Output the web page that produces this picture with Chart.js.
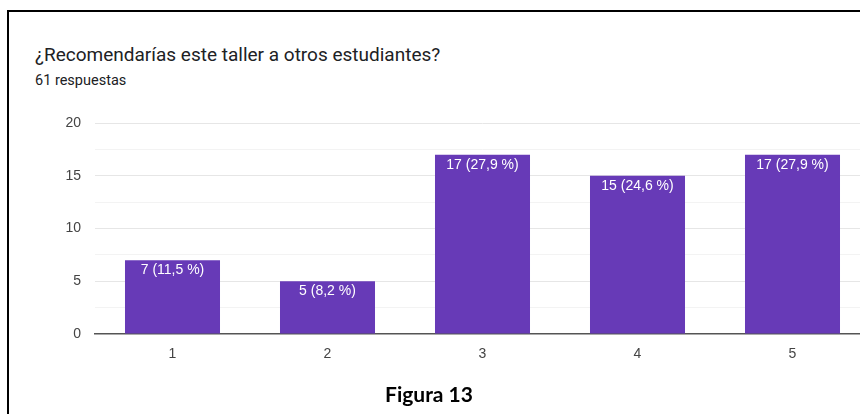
<!DOCTYPE html>
<html>
<head>
<meta charset="utf-8">
<script src="https://cdn.jsdelivr.net/npm/chart.js@4.4.0/dist/chart.umd.min.js"></script>
<style>
  html, body { margin: 0; padding: 0; background: #fff; }
  body { width: 860px; height: 414px; overflow: hidden; position: relative; font-family: Roboto, sans-serif; }
  #frame { position: absolute; left: 7px; top: 10px; width: 900px; height: 500px;
           border-top: 2px solid #000; border-left: 2px solid #000; }
  #title { position: absolute; left: 35px; top: 43px; font-size: 19px; color: #202124; white-space: nowrap; }
  #subtitle { position: absolute; left: 35px; top: 72px; font-size: 14.5px; color: #202124; }
  #figura { position: absolute; left: 0; width: 858px; top: 381px; text-align: center;
            font-family: Lato, sans-serif; font-weight: bold; font-size: 21px; color: #000; }
  #wrap { position: absolute; left: 0; top: 0; width: 900px; height: 414px; }
</style>
</head>
<body>
<div id="frame"></div>
<div id="title">¿Recomendarías este taller a otros estudiantes?</div>
<div id="subtitle">61 respuestas</div>
<div id="wrap"><canvas id="canvas"></canvas></div>
<div id="figura">Figura 13</div>
<script>
var categories = ['1', '2', '3', '4', '5'];
var counts = [7, 5, 17, 15, 17];
var totalResponses = 61;
var yTicks = [0, 5, 10, 15, 20];

var chartFont = '"Liberation Sans", Arial, sans-serif';

function pctLabel(v) {
  var p = (v / totalResponses * 100).toFixed(1).replace('.', ',');
  return v + ' (' + p + ' %)';
}

var barLabels = {
  id: 'barLabels',
  afterDatasetsDraw: function (chart) {
    var ctx = chart.ctx;
    var meta = chart.getDatasetMeta(0);
    ctx.save();
    ctx.fillStyle = '#ffffff';
    ctx.font = '14px ' + chartFont;
    ctx.textAlign = 'center';
    ctx.textBaseline = 'middle';
    meta.data.forEach(function (bar, i) {
      ctx.fillText(pctLabel(counts[i]), bar.x, bar.y + 10);
    });
    ctx.restore();
  }
};

function draw() {
  new Chart(document.getElementById('canvas'), {
    type: 'bar',
    data: {
      labels: categories,
      datasets: [{
        data: counts,
        backgroundColor: '#673ab7',
        borderWidth: 0,
        categoryPercentage: 1,
        barPercentage: 0.613
      }]
    },
    options: {
      responsive: true,
      maintainAspectRatio: false,
      animation: false,
      layout: { padding: { left: 0, right: 30, top: 123, bottom: 50 } },
      plugins: { legend: { display: false }, tooltip: { enabled: false } },
      scales: {
        x: {
          grid: { display: false },
          border: { display: true, color: '#555555', width: 1.5 },
          ticks: { color: '#444', font: { family: chartFont, size: 14 }, padding: 4 },
          afterFit: function (scale) { scale.height = 30; }
        },
        y: {
          min: 0,
          max: 20,
          ticks: {
            stepSize: 2.5,
            color: '#444',
            font: { family: chartFont, size: 14 },
            padding: 14,
            callback: function (v) { return yTicks.indexOf(v) >= 0 ? v : ''; }
          },
          grid: {
            drawTicks: false,
            color: function (c) {
              if (c.tick.value === 0) return 'rgba(0,0,0,0)';
              return yTicks.indexOf(c.tick.value) >= 0 ? '#e6e6e6' : '#f3f3f3';
            }
          },
          border: { display: false },
          afterFit: function (scale) { scale.width = 95; }
        }
      }
    },
    plugins: [barLabels]
  });
}

Promise.all([
  document.fonts.load('14px "Liberation Sans"'),
  document.fonts.load('13px Roboto'),
  document.fonts.load('bold 21px Lato')
]).then(draw, draw);
</script>
</body>
</html>
